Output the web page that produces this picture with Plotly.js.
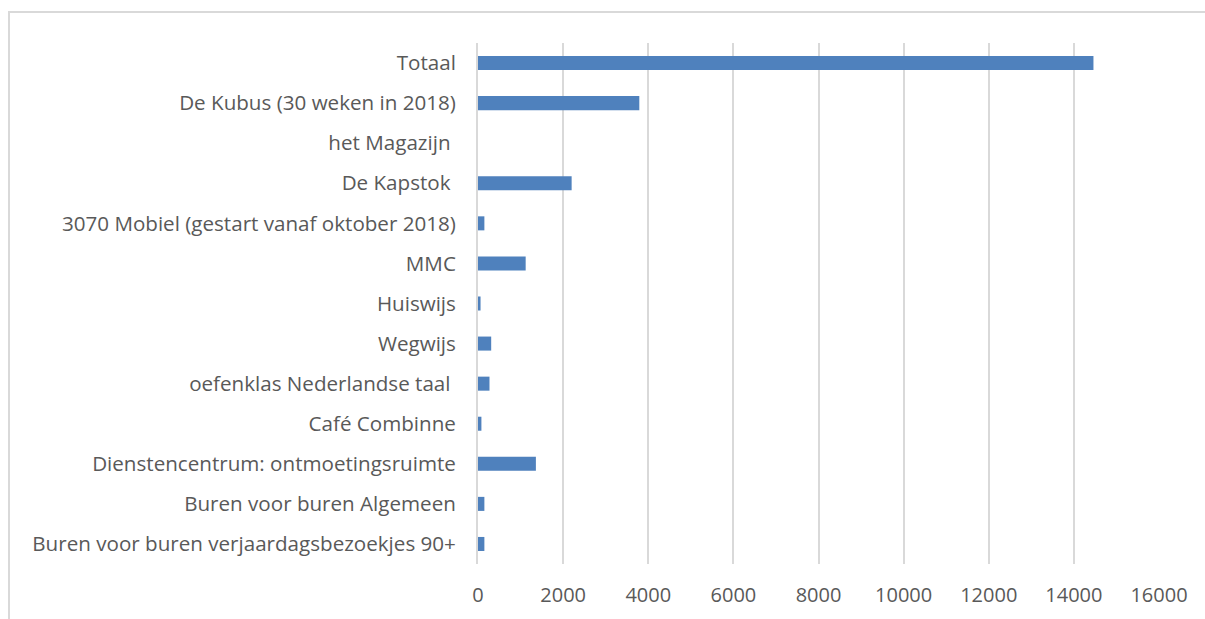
<!DOCTYPE html>
<html>
<head>
<meta charset="utf-8">
<script src="https://cdn.plot.ly/plotly-3.0.1.min.js"></script>
<style>
  html, body { margin: 0; padding: 0; background: #ffffff; }
  #wrap { position: relative; width: 1205px; height: 619px; overflow: hidden; }
  #frame { position: absolute; left: 8px; top: 11px; width: 1300px; height: 700px;
           border-left: 2px solid #d9d9d9; border-top: 2px solid #d9d9d9; }
  #chart { position: absolute; left: 0; top: 0; width: 1205px; height: 619px; }
</style>
</head>
<body>
<div id="wrap">
  <div id="frame"></div>
  <div id="chart"></div>
</div>
<script>
// Categories listed bottom to top
const categories = [
  "Buren voor buren verjaardagsbezoekjes 90+",
  "Buren voor buren Algemeen",
  "Dienstencentrum: ontmoetingsruimte",
  "Café Combinne",
  "oefenklas Nederlandse taal ",
  "Wegwijs",
  "Huiswijs",
  "MMC",
  "3070 Mobiel (gestart vanaf oktober 2018)",
  "De Kapstok ",
  "het Magazijn ",
  "De Kubus (30 weken in 2018)",
  "Totaal"
];
const values = [150, 150, 1360, 80, 270, 310, 60, 1120, 150, 2200, 0, 3790, 14460];
const xTickValues = [0, 2000, 4000, 6000, 8000, 10000, 12000, 14000, 16000];

const trace = {
  type: "bar",
  orientation: "h",
  y: categories,
  x: values,
  marker: { color: "#4f81bd", line: { width: 0 } },
  hoverinfo: "x+y"
};

const layout = {
  width: 1205,
  height: 619,
  margin: { l: 477.5, r: 46, t: 42.5, b: 55, pad: 0 },
  paper_bgcolor: "rgba(0,0,0,0)",
  plot_bgcolor: "rgba(0,0,0,0)",
  bargap: 0.65,
  showlegend: false,
  font: { family: "Open Sans, sans-serif", size: 20, color: "#595959" },
  xaxis: {
    range: [0, 16000],
    tickvals: xTickValues,
    ticktext: xTickValues.map(String),
    showgrid: true,
    gridcolor: "#d9d9d9",
    gridwidth: 2,
    zeroline: false,
    showline: false,
    ticks: "",
    ticklabelstandoff: 17,
    tickfont: { family: "Open Sans, sans-serif", size: 20, color: "#595959" },
    fixedrange: true
  },
  yaxis: {
    type: "category",
    categoryorder: "array",
    categoryarray: categories,
    showgrid: false,
    zeroline: false,
    showline: true,
    linecolor: "#d9d9d9",
    linewidth: 2,
    ticks: "",
    ticklabelstandoff: 16,
    tickfont: { family: "Open Sans, sans-serif", size: 20.6, color: "#595959" },
    fixedrange: true
  }
};

Plotly.newPlot("chart", [trace], layout, { displayModeBar: false, staticPlot: true });
</script>
</body>
</html>
